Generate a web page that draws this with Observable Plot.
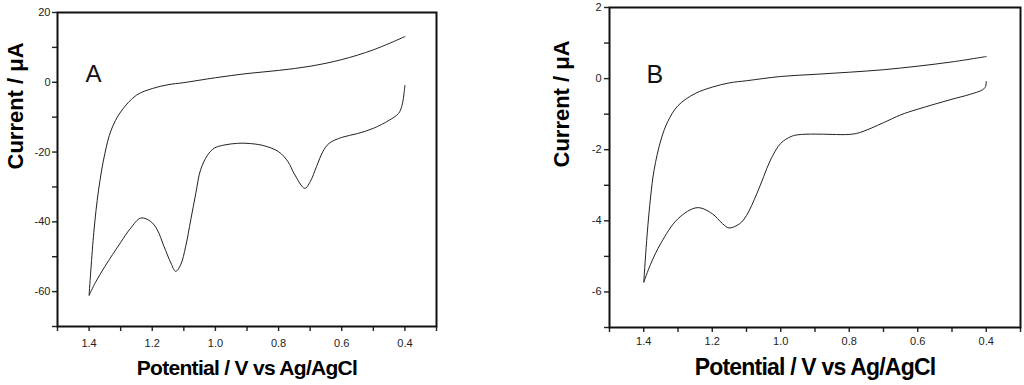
<!DOCTYPE html>
<html><head><meta charset="utf-8">
<script src="https://cdn.jsdelivr.net/npm/d3@7"></script>
<script src="https://cdn.jsdelivr.net/npm/@observablehq/plot@0.6"></script>
<style>
body{margin:0;background:#fff;}
#wrap{position:relative;width:1024px;height:385px;overflow:hidden;background:#fff;}
#wrap svg{position:absolute;top:0;}
</style></head><body><div id="wrap"></div>
<script>
// ---- Panel A data (Potential / V, Current / µA) ----
const potA_up = [0.40,0.50,0.60,0.70,0.80,0.90,1.00,1.10,1.15,1.20,1.25,1.30,1.33,1.35,1.37,1.385,1.40];
const curA_up = [13.1,9.3,6.5,4.6,3.4,2.5,1.3,-0.1,-0.7,-1.8,-3.7,-8.5,-13.7,-20.4,-30.9,-43.0,-61.1];
const potA_down = [1.40,1.38,1.35,1.30,1.27,1.236,1.205,1.184,1.163,1.141,1.126,1.110,1.094,1.078,1.062,1.047,1.025,1.004,0.973,0.93,0.90,0.85,0.80,0.77,0.75,0.717,0.70,0.68,0.66,0.64,0.60,0.55,0.50,0.45,0.42,0.41,0.405,0.40];
const curA_down = [-61.1,-57.4,-52.8,-45.9,-42.0,-38.9,-39.9,-42.3,-47.0,-51.8,-54.2,-52.3,-47.0,-39.4,-31.8,-25.1,-20.9,-18.9,-18.0,-17.5,-17.5,-18.1,-19.9,-22.8,-26.3,-30.4,-28.5,-24.2,-19.9,-17.5,-15.8,-14.7,-13.2,-10.9,-8.9,-6.9,-4.7,-0.9];

// ---- Panel B data ----
const potB_up = [0.40,0.50,0.60,0.70,0.80,0.90,1.00,1.10,1.15,1.20,1.25,1.30,1.33,1.35,1.37,1.38,1.39,1.40];
const curB_up = [0.62,0.47,0.35,0.25,0.18,0.12,0.06,-0.06,-0.12,-0.24,-0.42,-0.76,-1.21,-1.73,-2.58,-3.33,-4.37,-5.73];
const potB_down = [1.40,1.38,1.35,1.30,1.244,1.20,1.17,1.151,1.12,1.10,1.07,1.05,1.03,1.00,0.97,0.95,0.90,0.85,0.80,0.77,0.70,0.65,0.60,0.50,0.45,0.41,0.402,0.40];
const curB_down = [-5.73,-5.22,-4.63,-3.94,-3.63,-3.80,-4.08,-4.20,-4.08,-3.85,-3.24,-2.76,-2.29,-1.82,-1.63,-1.58,-1.56,-1.57,-1.57,-1.52,-1.24,-1.02,-0.86,-0.58,-0.45,-0.31,-0.22,-0.08];

// ---- Ticks and labels ----
const xTicks = [1.5,1.4,1.3,1.2,1.1,1.0,0.9,0.8,0.7,0.6,0.5,0.4,0.3];
const xTickLabels = [1.4,1.2,1.0,0.8,0.6,0.4];
const yTicksA = [-70,-60,-50,-40,-30,-20,-10,0,10,20];
const yTickLabelsA = [-60,-40,-20,0,20];
const yTicksB = [-7,-6,-5,-4,-3,-2,-1,0,1,2];
const yTickLabelsB = [-6,-4,-2,0,2];
const panelLabels = ["A","B"];
const xTitle = "Potential / V vs Ag/AgCl";
const yTitle = "Current / \u03bcA";

function rows(px, py, pu, cu) {
  const r = [];
  px.forEach((v, i) => r.push({V: v, I: py[i]}));
  pu.forEach((v, i) => r.push({V: v, I: cu[i]}));
  return r;
}
const has = (arr, d) => arr.some(v => Math.abs(v - d) < 1e-9);

function panel(cfg) {
  const svg = Plot.plot({
    width: cfg.width, height: 385,
    marginLeft: cfg.ml, marginRight: cfg.mr, marginTop: cfg.mt, marginBottom: cfg.mb,
    style: {fontFamily: "'Liberation Sans', Arial, sans-serif", fontSize: "11px", color: "#222", background: "#fff"},
    x: {domain: [1.5, 0.3]},
    y: {domain: cfg.ydomain},
    marks: [
      Plot.axisX({ticks: xTicks, tickSize: 5, tickPadding: cfg.xpad, strokeWidth: 1.4, label: null,
        tickFormat: d => has(xTickLabels, d) ? d3.format(".1f")(d) : ""}),
      Plot.axisY({ticks: cfg.yticks, tickSize: 5, tickPadding: cfg.ypad, strokeWidth: 1.4, label: null,
        tickFormat: d => has(cfg.ylabels, d) ? String(d) : ""}),
      Plot.frame({stroke: "#111", strokeWidth: 2}),
      Plot.line(cfg.data, {x: "V", y: "I", stroke: "#222", strokeWidth: 1, curve: "catmull-rom"}),
      Plot.text([cfg.letter], {frameAnchor: "top-left", textAnchor: "start", lineAnchor: "top",
        dx: cfg.ldx, dy: cfg.ldy, fontSize: cfg.lfs, fill: "#111"}),
      Plot.text([xTitle], {frameAnchor: "bottom", lineAnchor: "middle", dy: cfg.xtdy,
        fontSize: cfg.xtfs, fontWeight: "bold", fill: "#000"}),
      Plot.text([yTitle], {frameAnchor: "left", lineAnchor: "middle", rotate: -90, dx: cfg.ytdx,
        fontSize: 22, fontWeight: "bold", fill: "#000"})
    ]
  });
  svg.style.left = cfg.left + "px";
  d3.select(svg).selectAll("text").filter(function() { return this.textContent === xTitle; })
    .attr("letter-spacing", cfg.ls);
  return svg;
}

const wrap = document.getElementById("wrap");
wrap.appendChild(panel({
  left: 0, width: 445, ml: 57, mr: 9, mt: 12, mb: 59,
  ydomain: [-70, 20], yticks: yTicksA, ylabels: yTickLabelsA,
  xpad: 8, ypad: 2,
  data: rows(potA_up, curA_up, potA_down, curA_down),
  letter: panelLabels[0], ldx: 28, ldy: 52, lfs: 24,
  xtdy: 42, xtfs: 21, ls: "-0.7px", ytdx: -42
}));
wrap.appendChild(panel({
  left: 545, width: 479, ml: 64, mr: 4, mt: 7, mb: 58,
  ydomain: [-7, 2], yticks: yTicksB, ylabels: yTickLabelsB,
  xpad: 5, ypad: 3,
  data: rows(potB_up, curB_up, potB_down, curB_down),
  letter: panelLabels[1], ldx: 37, ldy: 58, lfs: 25,
  xtdy: 40, xtfs: 23, ls: "-0.8px", ytdx: -48
}));
</script></body></html>
